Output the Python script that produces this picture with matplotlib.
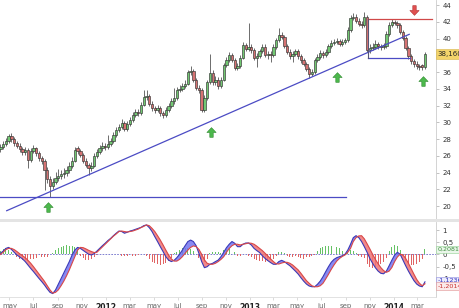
import matplotlib
matplotlib.use('Agg')
import matplotlib.pyplot as plt
import matplotlib.dates as mdates
from matplotlib.path import Path
from matplotlib.patches import Rectangle
import numpy as np
import datetime as dt

# ---------------- data ----------------
first_week = dt.date(2011, 4, 8)
n_weeks = 155
week_dates = [first_week + dt.timedelta(days=7 * i) for i in range(n_weeks)]

opens = [
    26.80, 27.06, 27.42, 27.78, 28.38, 28.02, 27.54, 27.18, 26.82, 26.46,
    26.70, 25.51, 26.58, 26.94, 26.34, 25.75, 25.39, 24.31, 23.23, 22.39,
    22.87, 23.35, 23.59, 23.83, 23.95, 24.31, 24.79, 25.39, 26.90, 26.55,
    26.10, 25.39, 24.91, 24.55, 24.79, 25.98, 26.46, 26.94, 27.18, 27.00,
    27.42, 27.78, 28.50, 29.10, 29.46, 29.94, 29.22, 29.82, 30.29, 30.89,
    31.25, 31.05, 32.09, 33.05, 33.17, 32.21, 31.73, 31.49, 31.73, 31.13,
    30.89, 31.49, 31.97, 32.57, 32.93, 33.89, 34.01, 34.37, 34.61, 36.04,
    36.16, 35.08, 34.12, 33.89, 31.49, 32.93, 34.85, 35.92, 34.85, 35.08,
    34.37, 35.08, 36.88, 37.48, 38.07, 37.48, 36.52, 36.76, 37.72, 39.27,
    38.79, 39.03, 38.67, 37.72, 37.96, 38.55, 39.03, 38.07, 38.19, 38.07,
    39.03, 39.87, 40.47, 40.23, 39.15, 38.43, 37.96, 38.19, 38.55, 37.96,
    37.48, 37.00, 36.40, 35.80, 36.04, 37.48, 37.84, 38.31, 38.07, 38.43,
    39.15, 39.51, 39.63, 39.75, 39.39, 39.63, 39.80, 41.07, 42.50, 42.62,
    42.14, 41.79, 41.67, 42.62, 38.67, 38.91, 39.03, 39.39, 39.15, 39.03,
    39.15, 40.59, 41.67, 42.02, 41.91, 41.67, 40.83, 40.11, 38.91, 37.96,
    37.36, 37.00, 36.76, 36.80, 36.55]

closes = [
    27.06, 27.42, 27.78, 28.38, 28.02, 27.54, 27.18, 26.82, 26.46, 26.70,
    25.51, 26.58, 26.94, 26.34, 25.75, 25.39, 24.31, 23.23, 22.39, 22.87,
    23.35, 23.59, 23.83, 23.95, 24.31, 24.79, 25.39, 26.70, 26.55, 26.10,
    25.39, 24.91, 24.55, 24.79, 25.98, 26.46, 26.94, 27.18, 27.00, 27.42,
    27.78, 28.50, 29.10, 29.46, 29.94, 29.22, 29.82, 30.29, 30.89, 31.25,
    31.05, 32.09, 33.05, 33.17, 32.21, 31.73, 31.49, 31.73, 31.13, 30.89,
    31.49, 31.97, 32.57, 32.93, 33.89, 34.01, 34.37, 34.61, 36.04, 36.16,
    35.08, 34.12, 33.89, 31.49, 32.93, 34.85, 35.92, 34.85, 35.08, 34.37,
    35.08, 36.88, 37.48, 38.07, 37.48, 36.52, 36.76, 37.72, 39.27, 38.79,
    39.03, 38.67, 37.72, 37.96, 38.55, 39.03, 38.07, 38.19, 38.07, 39.03,
    39.87, 40.47, 40.23, 39.15, 38.43, 37.96, 38.19, 38.55, 37.96, 37.48,
    37.00, 36.40, 35.80, 36.04, 37.48, 37.84, 38.31, 38.07, 38.43, 39.15,
    39.51, 39.63, 39.75, 39.39, 39.63, 39.80, 41.07, 42.50, 42.62, 42.14,
    41.79, 41.67, 42.62, 38.67, 38.91, 39.03, 39.39, 39.15, 39.03, 39.15,
    40.59, 41.67, 42.02, 41.91, 41.67, 40.83, 40.11, 38.91, 37.96, 37.36,
    37.00, 36.76, 36.64, 36.55, 38.16]

highs = [
    27.4, 27.8, 28.1, 28.6, 28.7, 28.3, 27.8, 27.5, 27.1, 27.0,
    26.9, 26.9, 27.3, 27.1, 26.6, 26.0, 25.6, 24.6, 23.6, 23.4,
    24.1, 24.4, 24.3, 24.5, 24.8, 25.2, 25.8, 27.0, 27.2, 26.8,
    26.3, 25.7, 25.1, 25.2, 26.3, 26.8, 27.3, 27.6, 27.5, 28.5,
    28.1, 28.8, 29.4, 29.8, 30.4, 30.2, 30.1, 30.6, 31.2, 31.6,
    31.6, 32.4, 33.9, 33.9, 33.4, 32.5, 32.0, 32.1, 32.0, 31.4,
    31.8, 32.3, 32.9, 34.1, 34.2, 34.4, 34.7, 35.0, 36.3, 36.7,
    36.4, 35.3, 34.4, 34.1, 33.3, 35.1, 38.1, 36.2, 35.5, 35.4,
    35.4, 37.1, 37.8, 38.4, 38.3, 37.7, 37.1, 38.0, 39.6, 39.5,
    41.9, 39.3, 38.9, 38.3, 38.8, 39.3, 39.3, 38.5, 38.5, 39.3,
    40.1, 41.3, 40.8, 40.4, 39.4, 38.7, 38.5, 38.8, 38.8, 38.2,
    37.7, 37.2, 36.6, 36.4, 37.7, 38.1, 38.6, 38.5, 38.7, 39.4,
    39.8, 39.9, 40.1, 40.0, 39.9, 40.1, 41.4, 42.8, 43.0, 42.9,
    42.4, 42.1, 43.2, 42.8, 39.3, 39.5, 39.8, 39.6, 39.4, 39.5,
    40.9, 42.0, 42.3, 42.2, 42.1, 41.9, 41.0, 40.3, 39.1, 38.2,
    37.6, 37.3, 37.0, 37.0, 38.4]

lows = [
    26.5, 26.8, 27.2, 27.5, 27.7, 27.2, 26.9, 26.5, 26.1, 26.1,
    24.5, 25.3, 26.3, 26.0, 25.4, 25.0, 21.9, 22.8, 21.1, 22.0,
    22.6, 23.0, 23.2, 23.4, 23.6, 24.0, 24.5, 25.2, 26.2, 25.8,
    25.1, 24.6, 23.7, 24.2, 24.6, 25.7, 26.2, 26.6, 26.7, 26.8,
    27.2, 27.5, 28.2, 28.8, 29.2, 28.9, 28.9, 29.5, 30.0, 30.6,
    30.8, 30.9, 31.9, 32.7, 31.9, 31.4, 31.1, 31.2, 30.8, 30.5,
    30.6, 31.2, 31.7, 32.2, 32.7, 33.6, 33.7, 34.1, 34.4, 35.7,
    34.8, 33.8, 33.5, 31.2, 31.2, 32.7, 34.6, 34.5, 34.5, 34.0,
    34.1, 34.9, 36.6, 37.2, 37.2, 36.2, 36.2, 36.5, 37.5, 38.5,
    38.5, 38.3, 37.4, 36.6, 37.7, 38.3, 37.8, 37.6, 37.2, 37.8,
    38.8, 39.6, 39.9, 38.9, 38.1, 37.6, 37.2, 37.9, 37.6, 37.1,
    36.7, 36.1, 35.3, 35.5, 35.8, 37.2, 37.5, 37.7, 37.8, 38.2,
    38.9, 39.2, 39.3, 39.1, 39.1, 39.3, 39.6, 40.8, 42.2, 41.8,
    41.5, 41.3, 41.4, 38.4, 38.3, 38.6, 38.8, 38.8, 38.6, 38.7,
    38.9, 40.3, 41.4, 41.6, 41.3, 40.5, 39.8, 38.6, 37.6, 37.0,
    36.6, 36.4, 36.3, 36.3, 36.4]

macd_line = [
    0.05, 0.14, 0.25, 0.29, 0.21, 0.09, -0.02, -0.10, -0.18, -0.29,
    -0.43, -0.57, -0.70, -0.84, -0.98, -1.11, -1.25, -1.41, -1.55, -1.60,
    -1.45, -1.22, -1.00, -0.77, -0.54, -0.29, -0.02, 0.18, 0.29, 0.25,
    0.17, 0.09, 0.01, -0.02, 0.03, 0.14, 0.25, 0.36, 0.46, 0.57,
    0.66, 0.77, 0.87, 0.96, 0.94, 0.87, 0.91, 0.96, 0.99, 1.03,
    1.07, 1.11, 1.18, 1.21, 1.10, 0.94, 0.73, 0.53, 0.32, 0.12,
    -0.09, -0.23, -0.29, -0.24, -0.13, 0.01, 0.18, 0.36, 0.53, 0.59,
    0.53, 0.36, 0.05, -0.29, -0.54, -0.50, -0.40, -0.36, -0.29, -0.23,
    -0.09, 0.09, 0.28, 0.42, 0.53, 0.46, 0.32, 0.32, 0.42, 0.47,
    0.47, 0.39, 0.25, 0.16, 0.08, -0.05, -0.16, -0.25, -0.33, -0.40,
    -0.40, -0.29, -0.24, -0.29, -0.38, -0.46, -0.57, -0.68, -0.80, -0.95,
    -1.09, -1.21, -1.29, -1.32, -1.32, -1.22, -1.09, -0.91, -0.70, -0.50,
    -0.32, -0.20, -0.13, -0.09, -0.05, 0.01, 0.18, 0.42, 0.69, 0.77,
    0.69, 0.53, 0.32, 0.09, -0.16, -0.36, -0.54, -0.68, -0.77, -0.79,
    -0.68, -0.46, -0.23, -0.02, 0.09, 0.01, -0.23, -0.46, -0.68, -0.88,
    -1.07, -1.21, -1.29, -1.32, -1.12]

signal_line = [
    0.00, 0.09, 0.20, 0.25, 0.25, 0.20, 0.12, 0.03, -0.05, -0.13,
    -0.24, -0.36, -0.50, -0.65, -0.80, -0.95, -1.10, -1.28, -1.45, -1.58,
    -1.55, -1.45, -1.28, -1.09, -0.87, -0.63, -0.36, -0.09, 0.18, 0.29,
    0.28, 0.23, 0.17, 0.12, 0.08, 0.09, 0.20, 0.31, 0.42, 0.53,
    0.64, 0.75, 0.84, 0.94, 0.96, 0.94, 0.92, 0.94, 0.96, 1.00,
    1.04, 1.10, 1.15, 1.21, 1.18, 1.07, 0.94, 0.77, 0.59, 0.39,
    0.18, -0.02, -0.18, -0.27, -0.27, -0.20, -0.09, 0.05, 0.18, 0.29,
    0.35, 0.32, 0.21, 0.01, -0.22, -0.36, -0.40, -0.40, -0.36, -0.29,
    -0.20, -0.09, 0.09, 0.25, 0.36, 0.42, 0.42, 0.39, 0.42, 0.44,
    0.47, 0.46, 0.42, 0.34, 0.25, 0.16, 0.05, -0.06, -0.18, -0.29,
    -0.38, -0.39, -0.35, -0.32, -0.32, -0.36, -0.43, -0.53, -0.63, -0.77,
    -0.92, -1.07, -1.18, -1.28, -1.32, -1.32, -1.28, -1.18, -1.00, -0.81,
    -0.61, -0.43, -0.27, -0.16, -0.08, -0.02, 0.09, 0.25, 0.53, 0.69,
    0.76, 0.77, 0.64, 0.44, 0.23, 0.01, -0.20, -0.38, -0.54, -0.66,
    -0.73, -0.68, -0.53, -0.29, -0.10, 0.01, -0.02, -0.16, -0.36, -0.59,
    -0.81, -1.02, -1.18, -1.28, -1.20]

histogram = [
    0.15, 0.22, 0.25, 0.20, 0.12, 0.03, -0.12, -0.20, -0.22, -0.22,
    -0.25, -0.20, -0.18, -0.15, -0.12, -0.10, -0.10, -0.10, -0.05, 0.08,
    0.20, 0.25, 0.30, 0.35, 0.38, 0.36, 0.33, 0.30, 0.22, -0.05,
    -0.15, -0.22, -0.24, -0.20, -0.12, -0.04, 0.03, 0.04, 0.02, 0.03,
    0.02, 0.03, 0.02, 0.00, -0.05, -0.08, -0.06, -0.04, -0.05, -0.05,
    -0.02, 0.01, 0.02, -0.05, -0.20, -0.30, -0.35, -0.40, -0.42, -0.38,
    -0.35, -0.28, -0.15, 0.05, 0.12, 0.18, 0.25, 0.28, 0.28, 0.22,
    0.15, 0.02, -0.15, -0.25, -0.30, -0.20, 0.05, 0.10, 0.12, 0.10,
    0.08, 0.18, 0.22, 0.25, 0.20, 0.12, -0.05, -0.08, 0.03, 0.02,
    -0.05, -0.10, -0.18, -0.22, -0.25, -0.28, -0.30, -0.28, -0.24, -0.18,
    -0.05, 0.10, 0.12, 0.05, -0.05, -0.10, -0.12, -0.08, -0.12, -0.15,
    -0.18, -0.12, -0.10, -0.05, -0.02, 0.15, 0.25, 0.30, 0.35, 0.36,
    0.35, 0.33, 0.30, 0.25, 0.15, 0.05, 0.12, 0.18, 0.15, 0.05,
    -0.05, -0.10, -0.15, -0.40, -0.50, -0.55, -0.50, -0.45, -0.40, -0.30,
    -0.15, 0.15, 0.30, 0.38, 0.35, 0.20, -0.05, -0.25, -0.35, -0.45,
    -0.45, -0.40, -0.30, -0.20, 0.21]

# analyst drawings (date, price)
trend_line = [(dt.date(2011, 4, 24), 19.44), (dt.date(2014, 2, 9), 40.5)]
support_line = [(dt.date(2011, 4, 1), 21.11), (dt.date(2013, 9, 1), 21.11)]
resistance_line = [(dt.date(2013, 10, 28), 42.33), (dt.date(2014, 4, 8), 42.33)]
box_floor = [(dt.date(2013, 10, 28), 37.64), (dt.date(2014, 2, 11), 37.64)]
up_arrows = [(dt.date(2011, 8, 7), 19.9), (dt.date(2012, 9, 24), 28.85),
             (dt.date(2013, 8, 10), 35.4), (dt.date(2014, 3, 16), 34.95)]
down_arrows = [(dt.date(2014, 2, 21), 43.4)]

price_ticks = [20, 22, 24, 26, 28, 30, 32, 34, 36, 38, 40, 42, 44]
macd_ticks = [1, 0.5, 0, -0.5, -1]
x_tick_dates = [dt.date(2011, 5, 1), dt.date(2011, 7, 1), dt.date(2011, 9, 1), dt.date(2011, 11, 1),
                dt.date(2012, 1, 1), dt.date(2012, 3, 1), dt.date(2012, 5, 1), dt.date(2012, 7, 1),
                dt.date(2012, 9, 1), dt.date(2012, 11, 1), dt.date(2013, 1, 1), dt.date(2013, 3, 1),
                dt.date(2013, 5, 1), dt.date(2013, 7, 1), dt.date(2013, 9, 1), dt.date(2013, 11, 1),
                dt.date(2014, 1, 1), dt.date(2014, 3, 1)]
x_tick_labels = ['may', 'jul', 'sep', 'nov', '2012', 'mar', 'may', 'jul', 'sep', 'nov',
                 '2013', 'mar', 'may', 'jul', 'sep', 'nov', '2014', 'mar']

last_price_label = '38,160'
macd_value_labels = [('0,2081', 0.21), ('-1,1236', -1.06), ('-1,2014', -1.30)]

# ---------------- drawing ----------------
plt.rcParams['font.family'] = ['DejaVu Sans']
W, H = 460, 308
fig = plt.figure(figsize=(W / 100, H / 100), dpi=100)
fig.patch.set_facecolor('white')

right = 436 / W
ax = fig.add_axes([0, (H - 219) / H, right, 219 / H])
ax2 = fig.add_axes([0, (H - 297) / H, right, 75 / H])
fig.patches.append(Rectangle((0, (H - 222) / H), 1, 3 / H, transform=fig.transFigure,
                             facecolor='#e4e4e4', edgecolor='none', zorder=0))

x = mdates.date2num(week_dates)
o = np.array(opens); c = np.array(closes); hi = np.array(highs); lo = np.array(lows)
up = c >= o
GREEN = '#72c872'
RED = '#d67272'
ax.vlines(x, lo, hi, color='#555555', lw=0.6, zorder=2)
body_bot = np.minimum(o, c)
body_h = np.maximum(np.abs(c - o), 0.1)
ax.bar(x, body_h, bottom=body_bot, width=6.0,
       color=[GREEN if u else RED for u in up], edgecolor='#333333', linewidth=0.45, zorder=3)

def seg(ax_, pts, **kw):
    ax_.plot(mdates.date2num([p[0] for p in pts]), [p[1] for p in pts], **kw)

seg(ax, trend_line, color='#4b4bc4', lw=0.9, zorder=4)
seg(ax, support_line, color='#4b4bc4', lw=0.9, zorder=4)
seg(ax, resistance_line, color='#d04848', lw=0.9, zorder=4)
seg(ax, box_floor, color='#4b4bc4', lw=0.9, zorder=4)
seg(ax, [(resistance_line[0][0], resistance_line[0][1]), (box_floor[0][0], box_floor[0][1])],
    color='#555577', lw=0.8, zorder=4)

arrow_up = Path([(-0.35, -1), (0.35, -1), (0.35, 0), (0.95, 0), (0, 1), (-0.95, 0), (-0.35, 0), (-0.35, -1)],
                [Path.MOVETO] + [Path.LINETO] * 6 + [Path.CLOSEPOLY])
arrow_down = Path([(-0.35, 1), (0.35, 1), (0.35, 0), (0.95, 0), (0, -1), (-0.95, 0), (-0.35, 0), (-0.35, 1)],
                  [Path.MOVETO] + [Path.LINETO] * 6 + [Path.CLOSEPOLY])
ax.plot(mdates.date2num([a[0] for a in up_arrows]), [a[1] for a in up_arrows], ls='none',
        marker=arrow_up, markersize=7, markerfacecolor='#4cb84c', markeredgecolor='#2e8a2e',
        markeredgewidth=0.4, zorder=5)
ax.plot(mdates.date2num([a[0] for a in down_arrows]), [a[1] for a in down_arrows], ls='none',
        marker=arrow_down, markersize=7, markerfacecolor='#e05050', markeredgecolor='#b03030',
        markeredgewidth=0.4, zorder=5)

xmin = mdates.date2num(dt.date(2011, 4, 7))
xmax = mdates.date2num(dt.date(2014, 4, 18))
ax.set_xlim(xmin, xmax)
ax.set_ylim(18.45, 44.6)
for s in ['top', 'left', 'bottom']:
    ax.spines[s].set_visible(False)
ax.spines['right'].set_color('#cccccc')
ax.spines['right'].set_linewidth(0.6)
ax.yaxis.tick_right()
ax.set_yticks(price_ticks)
ax.set_yticklabels([str(t) for t in price_ticks])
ax.tick_params(axis='y', length=2.5, width=0.5, color='#aaaaaa', labelsize=5, labelcolor='#333333', pad=2)
ax.set_xticks([])

ax.text(1.004, closes[-1], last_price_label, transform=ax.get_yaxis_transform(), ha='left', va='center',
        fontsize=5, color='#222222', zorder=10, clip_on=False,
        bbox=dict(boxstyle='square,pad=0.25', facecolor='#f3d46a', edgecolor='#d8b448', linewidth=0.4))

# MACD panel
m = np.array(macd_line); s_ = np.array(signal_line); hgm = np.array(histogram)
ax2.axhline(0, color='#6a6ac8', lw=0.6, ls=(0, (2, 1.5)), zorder=1)
ax2.bar(x, hgm, width=2.4, color=['#66c266' if v >= 0 else '#e06464' for v in hgm], linewidth=0, zorder=2)
ax2.fill_between(x, m, s_, where=m >= s_, interpolate=True, color='#7474f0', alpha=0.85, lw=0, zorder=3)
ax2.fill_between(x, m, s_, where=m < s_, interpolate=True, color='#f07474', alpha=0.85, lw=0, zorder=3)
ax2.plot(x, m, color='#3a3ab8', lw=0.8, zorder=4)
ax2.plot(x, s_, color='#d84848', lw=0.8, zorder=4)
ax2.set_xlim(xmin, xmax)
ax2.set_ylim(-1.74, 1.33)
for s in ['top', 'left']:
    ax2.spines[s].set_visible(False)
ax2.spines['right'].set_color('#cccccc')
ax2.spines['right'].set_linewidth(0.6)
ax2.spines['bottom'].set_color('#dddddd')
ax2.spines['bottom'].set_linewidth(0.6)
ax2.yaxis.tick_right()
ax2.set_yticks(macd_ticks)
ax2.set_yticklabels([('%g' % t).replace('.', ',') for t in macd_ticks])
ax2.tick_params(axis='y', length=2.5, width=0.5, color='#aaaaaa', labelsize=5, labelcolor='#333333', pad=2)
ax2.set_xticks(mdates.date2num(x_tick_dates))
ax2.set_xticklabels(x_tick_labels)
ax2.tick_params(axis='x', length=2, width=0.5, color='#cccccc', labelsize=5, labelcolor='#666666', pad=2)
for lab in ax2.get_xticklabels():
    if lab.get_text().isdigit():
        lab.set_fontweight('bold')
        lab.set_color('#222222')
        lab.set_fontsize(5.5)

styles = [('#3f8f3f', '#eaf6ea', '#8fcf8f'), ('#3030c0', '#ececfb', '#8a8ae0'), ('#c83030', '#fbeaea', '#e09090')]
for (txt, val), (fc, bg, ec) in zip(macd_value_labels, styles):
    ax2.text(1.004, val, txt, transform=ax2.get_yaxis_transform(), ha='left', va='center', fontsize=4.6,
             color=fc, zorder=10, clip_on=False,
             bbox=dict(boxstyle='square,pad=0.2', facecolor=bg, edgecolor=ec, linewidth=0.4))

fig.savefig('out.png', dpi=100, facecolor='white')
